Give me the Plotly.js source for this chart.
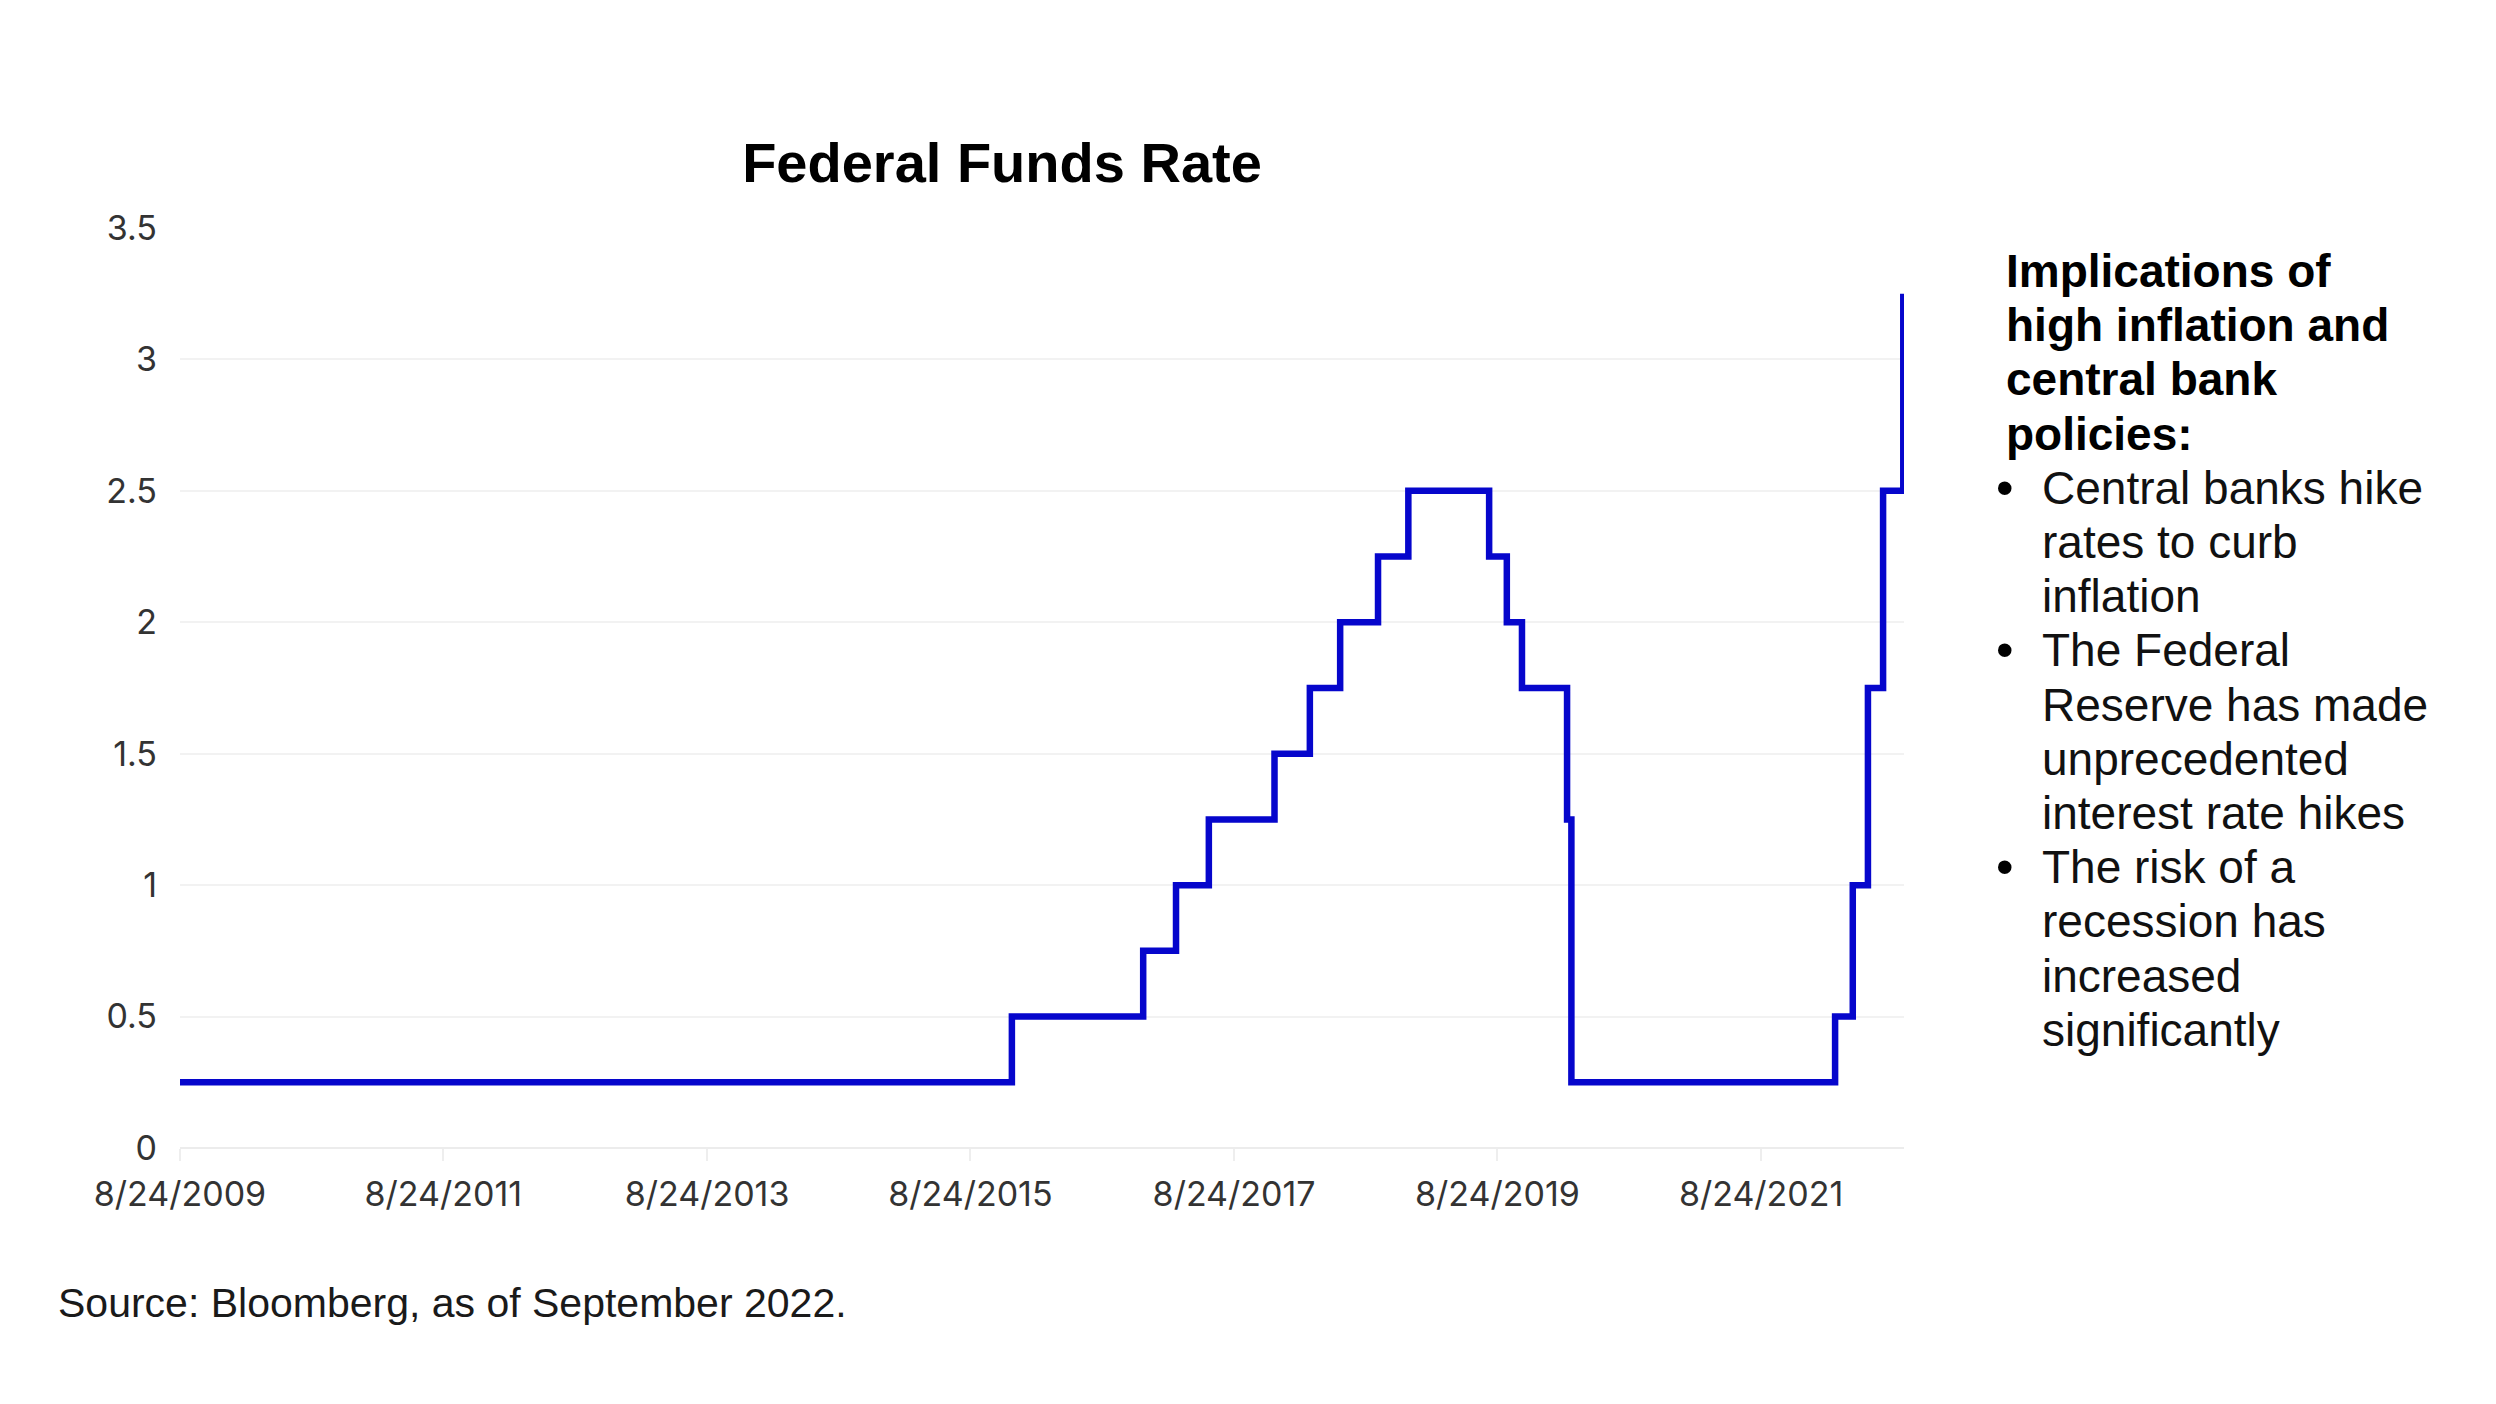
<!DOCTYPE html>
<html>
<head>
<meta charset="utf-8">
<script src="https://cdn.plot.ly/plotly-3.0.1.min.js"></script>
<style>html,body{margin:0;padding:0;background:#fff;}#chart{width:2496px;height:1404px;}</style>
</head>
<body>
<div id="chart"></div>
<script>
// Federal funds rate (upper bound, %) – dates where the level changes
const rateDates = ['2009-08-24','2015-12-17','2016-12-15','2017-03-16','2017-06-15','2017-12-14','2018-03-22','2018-06-14','2018-09-27','2018-12-20','2019-08-01','2019-09-19','2019-10-31','2020-03-04','2020-03-16','2022-03-17','2022-05-05','2022-06-16','2022-07-28','2022-09-22'];
const rateValues = [0.25, 0.5, 0.75, 1.0, 1.25, 1.5, 1.75, 2.0, 2.25, 2.5, 2.25, 2.0, 1.75, 1.25, 0.25, 0.5, 1.0, 1.75, 2.5, 3.25];

const xTickVals = ['2009-08-24','2011-08-24','2013-08-24','2015-08-24','2017-08-24','2019-08-24','2021-08-24'];
const xTickText = ['8/24/2009','8/24/2011','8/24/2013','8/24/2015','8/24/2017','8/24/2019','8/24/2021'];
const yTickVals = [0, 0.5, 1, 1.5, 2, 2.5, 3, 3.5];

const chartTitle = 'Federal Funds Rate';
const sourceNote = 'Source: Bloomberg, as of September 2022.';
const headingLines = ['Implications of', 'high inflation and', 'central bank', 'policies:'];
const bullets = [
  ['Central banks hike', 'rates to curb', 'inflation'],
  ['The Federal', 'Reserve has made', 'unprecedented', 'interest rate hikes'],
  ['The risk of a', 'recession has', 'increased', 'significantly']
];

const W = 2496, H = 1404;
const PL = 180, PR = 1904, PT = 228, PB = 1148;
const px2x = p => (p - PL) / (PR - PL);
const py2y = p => (PB - p) / (PB - PT);

const annotations = [];
const textFont = {family: 'Liberation Sans, Arial, sans-serif', size: 46, color: '#111111'};
const lineStep = 54.2;
let lineY = 271;
headingLines.forEach(t => {
  annotations.push({text: '<b>' + t + '</b>', xref: 'paper', yref: 'paper', x: px2x(2004), y: py2y(lineY),
    xanchor: 'left', yanchor: 'middle', showarrow: false, font: {...textFont, color: '#000000'}});
  lineY += lineStep;
});
bullets.forEach(lines => {
  annotations.push({text: '•', xref: 'paper', yref: 'paper', x: px2x(1994), y: py2y(lineY),
    xanchor: 'left', yanchor: 'middle', showarrow: false, font: {...textFont, size: 50, color: '#000000'}});
  lines.forEach(t => {
    annotations.push({text: t, xref: 'paper', yref: 'paper', x: px2x(2040), y: py2y(lineY),
      xanchor: 'left', yanchor: 'middle', showarrow: false, font: textFont});
    lineY += lineStep;
  });
});
annotations.push({text: sourceNote, xref: 'paper', yref: 'paper', x: px2x(56), y: py2y(1303),
  xanchor: 'left', yanchor: 'middle', showarrow: false,
  font: {family: 'Liberation Sans, Arial, sans-serif', size: 41, color: '#1a1a1a'}});

const trace = {
  x: rateDates, y: rateValues, type: 'scatter', mode: 'lines',
  line: {shape: 'hv', color: '#0606cc', width: 6.5},
  hoverinfo: 'skip'
};

const layout = {
  width: W, height: H,
  paper_bgcolor: '#ffffff', plot_bgcolor: '#ffffff',
  margin: {l: PL, r: W - PR, t: PT, b: H - PB, pad: 0},
  showlegend: false,
  title: {text: '<b>' + chartTitle + '</b>', x: 1002 / W, xanchor: 'center', xref: 'container',
    y: 1 - 162 / H, yanchor: 'middle', yref: 'container',
    font: {family: 'Liberation Sans, Arial, sans-serif', size: 56, color: '#000000'}},
  xaxis: {
    type: 'date', range: ['2009-08-24', '2022-09-24'],
    tickvals: xTickVals, ticktext: xTickText,
    showgrid: false, zeroline: false, showline: false,
    ticks: 'outside', ticklen: 12, tickwidth: 2, tickcolor: '#eeeeee',
    ticklabelstandoff: 4,
    tickfont: {family: 'Inter, Roboto, sans-serif', size: 34, color: '#333333'}
  },
  yaxis: {
    range: [0, 3.5], tickvals: yTickVals,
    showgrid: true, gridcolor: '#f2f2f2', gridwidth: 2,
    zeroline: true, zerolinecolor: '#ececec', zerolinewidth: 2,
    showline: false, ticks: '', ticklabelstandoff: 22,
    tickfont: {family: 'Inter, Roboto, sans-serif', size: 34, color: '#333333'}
  },
  annotations: annotations
};

Plotly.newPlot('chart', [trace], layout, {staticPlot: true, displayModeBar: false});
</script>
</body>
</html>
